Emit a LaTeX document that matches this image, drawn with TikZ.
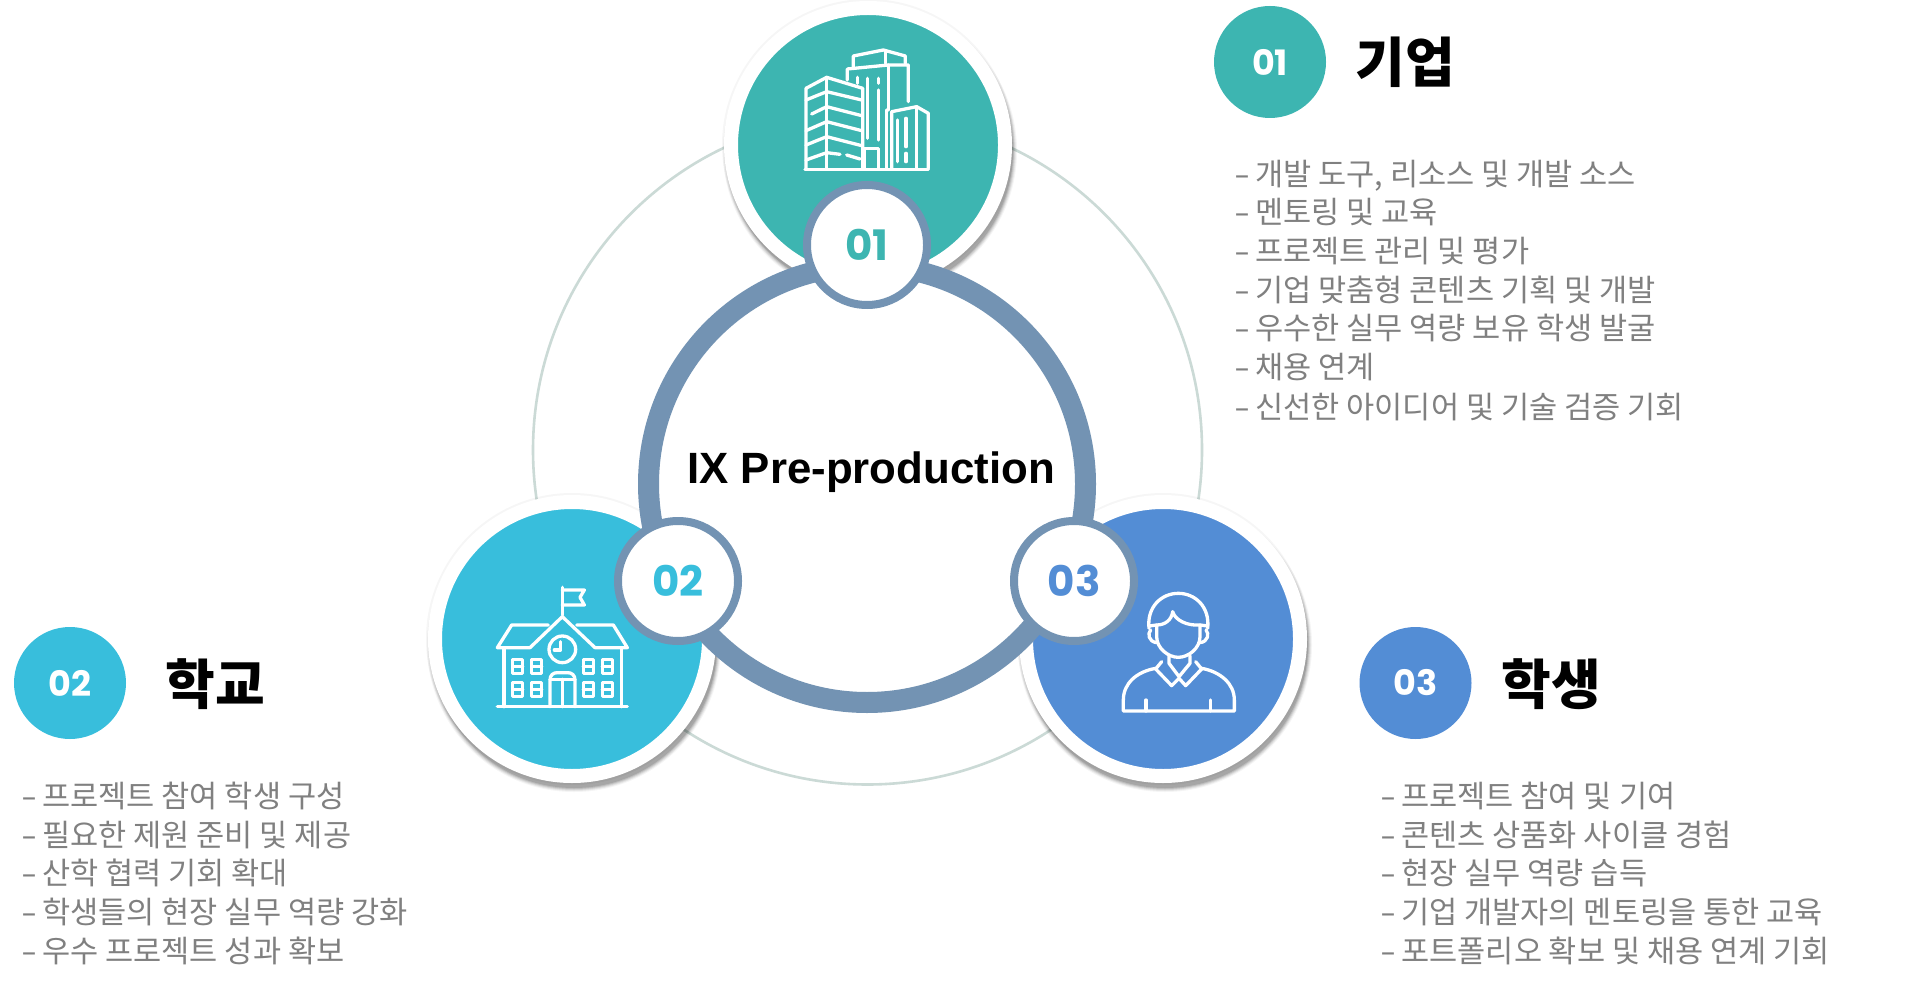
\documentclass[tikz,border=0pt]{standalone}
\usepackage{fontspec}
\usepackage{graphicx}
\setmainfont{Noto Sans CJK KR}
\newfontfamily\numfont{Poppins}
\newfontfamily\titlefont{Liberation Sans}
\usetikzlibrary{calc}
\definecolor{cteal}{HTML}{3DB5B1}
\definecolor{csky}{HTML}{38BEDC}
\definecolor{cblue}{HTML}{538DD5}
\definecolor{cring}{HTML}{7393B3}
\definecolor{cthin}{HTML}{CBDAD6}
\definecolor{cgrey}{HTML}{808080}
\newcommand{\softshadow}[2]{\fill[black,opacity=.035] (#1,#2) circle[radius=146];\foreach \rr/\op in {147/.04,146/.06,145/.08,144/.10,143/.12}{\fill[black,opacity=\op] (#1+2,#2+6) circle[radius=\rr];}}
\newcommand{\lidash}{\scalebox{1.5}[1]{-} \kern-0.9pt}
\tikzset{
  bigdisc/.style={circle,fill=#1,draw=white,line width=7pt,minimum size=137pt,inner sep=0pt},
  badge/.style={circle,fill=white,draw=cring,line width=4pt,minimum size=60pt,inner sep=0pt,text=#1,font=\numfont\bfseries\fontsize{21}{21}\selectfont},
  headdisc/.style={circle,fill=#1,minimum size=56pt,inner sep=0pt,text=white,font=\numfont\bfseries\fontsize{17.5}{18}\selectfont},
  headtext/.style={anchor=base west,inner sep=0pt,font=\bfseries\fontsize{27}{30}\selectfont,text=black},
  item/.style={anchor=base west,inner sep=0pt,font=\fontsize{15.3}{17}\selectfont,text=cgrey},
  icon/.style={draw=white,line width=1.65pt,line cap=round,line join=round}
}
\begin{document}
\begin{tikzpicture}[x=0.5pt,y=-0.5pt]
\useasboundingbox (0,0) rectangle (1920,989);
\fill[white] (0,0) rectangle (1920,989);
\draw[cthin,line width=1.3pt] (867.5,450) circle[radius=334.5];
\softshadow{868}{145}
\softshadow{572}{639}
\softshadow{1163}{639}
\node[bigdisc=cteal] (d1) at (868,145) {};
\node[bigdisc=csky] (d2) at (572,639) {};
\node[bigdisc=cblue] (d3) at (1163,639) {};
% building
\begin{scope}[shift={(720,0)},scale=1/3,icon]
\draw (255,508)--(625,508);
\draw (258,508)--(258,265)--(320,232)--(428,265)--(428,508);
\draw (320,232)--(320,508);
\draw (258,300)--(320,275)--(425,300);
\draw (275,342)--(320,320)--(425,347);
\draw (258,392)--(320,365)--(425,392);
\draw (258,435)--(320,410)--(425,437);
\draw (258,480)--(320,458)--(360,463);
\draw (380,465)--(420,477);
\draw (382,240)--(382,207)--(505,195)--(565,195)--(565,305);
\draw (400,200)--(400,168)--(490,150)--(556,168)--(556,190);
\draw (497,152)--(497,190);
\draw (505,195)--(505,330);
\draw (500,330)--(500,505);
\draw (412,232)--(412,250);
\draw (442,235)--(442,415);
\draw (476,235)--(476,250);
\draw (476,270)--(476,420);
\draw (432,505)--(432,445)--(475,445)--(475,505);
\draw (515,505)--(515,335)--(590,320)--(625,340)--(625,505);
\draw (590,320)--(590,505);
\draw (533,360)--(533,485);
\draw (558,355)--(558,440);
\draw (558,460)--(558,485);
\end{scope}
% school
\begin{scope}[shift={(420,500)},scale=1/3,icon]
\draw (427,262)--(427,345);
\draw (427,270)--(493,270)--(480,292)--(493,315)--(427,315);
\draw (385,375)--(275,375)--(232,443)--(330,443)--(427,350)--(525,443)--(622,443)--(580,375)--(470,375);
\draw (252,443)--(252,620);
\draw (605,443)--(605,620);
\draw (232,620)--(622,620);
\draw (427,448) circle[radius=40];
\draw (422,425)--(422,450)--(403,450);
\foreach \xa in {278,335,490,547}{
  \foreach \ya in {478,548}{
    \draw (\xa,\ya) rectangle (\xa+30,\ya+42);
    \draw (\xa,\ya+21)--(\xa+30,\ya+21);
  }
}
\draw (390,620)--(390,540) .. controls (390,525) and (400,518) .. (412,518)--(443,518) .. controls (455,518) and (465,525) .. (465,540)--(465,620);
\draw (390,538)--(465,538);
\draw (428,538)--(428,620);
\end{scope}
% student
\begin{scope}[shift={(1000,500)},scale=1/3,icon]
\draw (447,385) .. controls (440,320) and (485,280) .. (535,280) .. controls (585,280) and (630,320) .. (623,385);
\draw (470,375) -- (470,410) .. controls (470,445) and (505,472) .. (535,472) .. controls (565,472) and (600,445) .. (600,410) -- (600,375);
\draw (447,378)--(470,375) .. controls (495,375) and (515,360) .. (518,335) .. controls (525,360) and (560,378) .. (600,375)--(623,378);
\draw (452,390) .. controls (442,400) and (445,425) .. (470,428);
\draw (618,390) .. controls (628,400) and (625,425) .. (600,428);
\draw (507,467)--(507,490)--(537,530)--(570,490)--(570,467);
\draw (485,485)--(467,507)--(515,557)--(537,535)--(557,557)--(605,507)--(587,485);
\draw (467,505) .. controls (410,515) and (370,550) .. (370,600)--(370,633)--(703,633)--(703,600) .. controls (703,550) and (660,515) .. (605,505);
\draw (438,600)--(438,633);
\draw (632,600)--(632,633);
\end{scope}
% centre ring
\node[circle,draw=cring,fill=white,line width=10.5pt,minimum size=218.5pt,inner sep=0pt] (hub) at (867,484) {};
\node[anchor=base west,inner sep=0pt,font=\titlefont\bfseries\fontsize{21.9}{24}\selectfont,text=black] (title) at (687,483) {IX Pre-production};
\node[badge=cteal] (b1) at (867,245) {01};
\node[badge=csky] (b2) at (678,581) {02};
\node[badge=cblue] (b3) at (1074,581) {03};
% headers
\node[headdisc=cteal] (h1) at (1270,62) {01};
\node[headdisc=csky] (h2) at (70,683) {02};
\node[headdisc=cblue] (h3) at (1415.5,683) {03};
\node[headtext] (t1) at (1355,83) {기업};
\node[headtext] (t2) at (165,704) {학교};
\node[headtext] (t3) at (1501,704) {학생};
% lists
\node[item] (a1) at (1234,186) {\lidash 개발 도구, 리소스 및 개발 소스};
\node[item] (a2) at (1234,224) {\lidash 멘토링 및 교육};
\node[item] (a3) at (1234,263) {\lidash 프로젝트 관리 및 평가};
\node[item] (a4) at (1234,302) {\lidash 기업 맞춤형 콘텐츠 기획 및 개발};
\node[item] (a5) at (1234,340) {\lidash 우수한 실무 역량 보유 학생 발굴};
\node[item] (a6) at (1234,379) {\lidash 채용 연계};
\node[item] (a7) at (1234,418) {\lidash 신선한 아이디어 및 기술 검증 기회};
\node[item] (s1) at (21,807) {\lidash 프로젝트 참여 학생 구성};
\node[item] (s2) at (21,846) {\lidash 필요한 제원 준비 및 제공};
\node[item] (s3) at (21,884) {\lidash 산학 협력 기회 확대};
\node[item] (s4) at (21,923) {\lidash 학생들의 현장 실무 역량 강화};
\node[item] (s5) at (21,962) {\lidash 우수 프로젝트 성과 확보};
\node[item] (u1) at (1380,807) {\lidash 프로젝트 참여 및 기여};
\node[item] (u2) at (1380,846) {\lidash 콘텐츠 상품화 사이클 경험};
\node[item] (u3) at (1380,884) {\lidash 현장 실무 역량 습득};
\node[item] (u4) at (1380,923) {\lidash 기업 개발자의 멘토링을 통한 교육};
\node[item] (u5) at (1380,962) {\lidash 포트폴리오 확보 및 채용 연계 기회};
\end{tikzpicture}
\end{document}
